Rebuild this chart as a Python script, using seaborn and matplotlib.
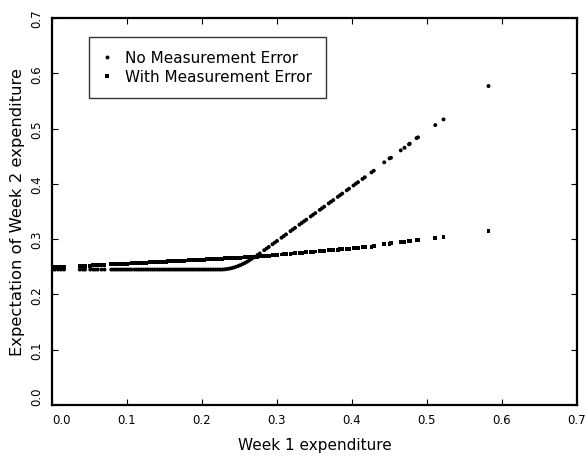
import matplotlib
matplotlib.use("Agg")
import matplotlib.pyplot as plt
import seaborn as sns
import pandas as pd

# Week 1 expenditure (x) values
week1 = [0.001, 0.004, 0.008, 0.012, 0.016,
         0.037, 0.041, 0.044,
         0.051, 0.055, 0.058, 0.061,
         0.066, 0.070,
         0.079, 0.082, 0.085, 0.088, 0.091, 0.094, 0.097, 0.100, 0.103, 0.106,
         0.110, 0.113, 0.116, 0.119, 0.122, 0.125, 0.128, 0.131, 0.134, 0.137,
         0.140, 0.143, 0.146, 0.149, 0.152, 0.155, 0.158, 0.161, 0.164, 0.167,
         0.170, 0.173, 0.176, 0.179, 0.182, 0.185, 0.188, 0.191, 0.194, 0.197,
         0.200, 0.203, 0.206, 0.209, 0.212, 0.215, 0.218, 0.221, 0.224, 0.227,
         0.230, 0.233, 0.236, 0.239, 0.242, 0.245, 0.248, 0.251, 0.254, 0.257,
         0.260, 0.263, 0.266, 0.269,
         0.274, 0.277, 0.283, 0.286, 0.289, 0.294, 0.297, 0.300, 0.306, 0.309,
         0.312, 0.318, 0.321, 0.324, 0.330, 0.333, 0.336, 0.339, 0.345, 0.348,
         0.351, 0.357, 0.360, 0.363, 0.369, 0.372, 0.375, 0.381, 0.384, 0.387,
         0.393, 0.396, 0.402, 0.405, 0.408, 0.414, 0.417, 0.426, 0.429, 0.443,
         0.450, 0.452, 0.465, 0.470, 0.476, 0.477, 0.486, 0.488, 0.511, 0.522,
         0.582]

# Expectation of week 2 expenditure, no measurement error
no_error = [0.2450, 0.2450, 0.2450, 0.2450, 0.2450,
            0.2450, 0.2450, 0.2450,
            0.2450, 0.2450, 0.2450, 0.2450,
            0.2450, 0.2450,
            0.2450, 0.2450, 0.2450, 0.2450, 0.2450, 0.2450, 0.2450, 0.2450, 0.2450, 0.2450,
            0.2450, 0.2450, 0.2450, 0.2450, 0.2450, 0.2450, 0.2450, 0.2450, 0.2450, 0.2450,
            0.2450, 0.2450, 0.2450, 0.2450, 0.2450, 0.2450, 0.2450, 0.2450, 0.2450, 0.2450,
            0.2450, 0.2450, 0.2450, 0.2450, 0.2450, 0.2450, 0.2450, 0.2450, 0.2450, 0.2450,
            0.2450, 0.2450, 0.2450, 0.2450, 0.2450, 0.2450, 0.2450, 0.2450, 0.2450, 0.2450,
            0.2454, 0.2459, 0.2466, 0.2474, 0.2485, 0.2498, 0.2513, 0.2529, 0.2548, 0.2568,
            0.2591, 0.2615, 0.2642, 0.2670,
            0.2712, 0.2741, 0.2800, 0.2829, 0.2859, 0.2908, 0.2938, 0.2967, 0.3026, 0.3056,
            0.3086, 0.3145, 0.3175, 0.3204, 0.3263, 0.3293, 0.3322, 0.3352, 0.3411, 0.3440,
            0.3470, 0.3529, 0.3558, 0.3588, 0.3647, 0.3676, 0.3706, 0.3765, 0.3794, 0.3824,
            0.3883, 0.3912, 0.3971, 0.4001, 0.4030, 0.4089, 0.4119, 0.4207, 0.4237, 0.4389,
            0.4461, 0.4472, 0.4606, 0.4653, 0.4715, 0.4726, 0.4828, 0.4841, 0.5063, 0.5166,
            0.5769]

# Expectation of week 2 expenditure, with measurement error
with_error = [0.2486, 0.2488, 0.2491, 0.2494, 0.2497,
              0.2512, 0.2515, 0.2517,
              0.2522, 0.2525, 0.2527, 0.2529,
              0.2533, 0.2535,
              0.2542, 0.2544, 0.2546, 0.2548, 0.2551, 0.2553, 0.2555, 0.2557, 0.2559, 0.2561,
              0.2564, 0.2566, 0.2569, 0.2571, 0.2573, 0.2575, 0.2577, 0.2579, 0.2581, 0.2584,
              0.2586, 0.2588, 0.2590, 0.2592, 0.2594, 0.2597, 0.2599, 0.2601, 0.2603, 0.2605,
              0.2607, 0.2610, 0.2612, 0.2614, 0.2616, 0.2618, 0.2620, 0.2623, 0.2625, 0.2627,
              0.2629, 0.2631, 0.2633, 0.2635, 0.2638, 0.2640, 0.2642, 0.2644, 0.2646, 0.2648,
              0.2651, 0.2653, 0.2655, 0.2657, 0.2659, 0.2661, 0.2664, 0.2666, 0.2668, 0.2670,
              0.2672, 0.2674, 0.2677, 0.2679,
              0.2684, 0.2688, 0.2695, 0.2699, 0.2702, 0.2708, 0.2712, 0.2715, 0.2722, 0.2726,
              0.2730, 0.2737, 0.2740, 0.2744, 0.2751, 0.2755, 0.2759, 0.2762, 0.2769, 0.2773,
              0.2777, 0.2784, 0.2787, 0.2791, 0.2798, 0.2802, 0.2805, 0.2812, 0.2816, 0.2820,
              0.2827, 0.2830, 0.2838, 0.2841, 0.2845, 0.2852, 0.2856, 0.2866, 0.2870, 0.2906,
              0.2920, 0.2924, 0.2945, 0.2955, 0.2965, 0.2967, 0.2985, 0.2988, 0.3020, 0.3033,
              0.3146]

series_labels = ["No Measurement Error", "With Measurement Error"]
tick_vals = [0.0, 0.1, 0.2, 0.3, 0.4, 0.5, 0.6, 0.7]
tick_labels = ["0.0", "0.1", "0.2", "0.3", "0.4", "0.5", "0.6", "0.7"]

df = pd.DataFrame({
    "x": week1 + week1,
    "y": no_error + with_error,
    "series": [series_labels[0]] * len(week1) + [series_labels[1]] * len(week1),
})

sns.set_theme(style="white")
plt.rcParams["font.family"] = ["DejaVu Sans"]
plt.rcParams["text.color"] = "black"
plt.rcParams["axes.labelcolor"] = "black"
plt.rcParams["xtick.color"] = "black"
plt.rcParams["ytick.color"] = "black"

fig = plt.figure(figsize=(5.87, 4.60), dpi=100)
ax = fig.add_axes([52 / 587, 54 / 460, 525 / 587, 387 / 460])

sns.scatterplot(data=df, x="x", y="y", style="series",
                markers={series_labels[0]: "o", series_labels[1]: "s"},
                color="black", s=8, linewidth=0, ax=ax, legend=True)

ax.set_xlim(0.0, 0.7)
ax.set_ylim(0.0, 0.7)
ax.set_xticks(tick_vals)
ax.set_yticks(tick_vals)
ax.set_xticklabels(tick_labels, fontsize=8.5)
ax.set_yticklabels(tick_labels, fontsize=8.5, rotation=90, va="center")
ax.tick_params(direction="in", length=4, width=0.8, top=True, right=True,
               bottom=True, left=True, colors="black", pad=6)
for sp in ax.spines.values():
    sp.set_visible(True)
    sp.set_linewidth(1.6)
    sp.set_color("black")

# shift end labels like the reference
xl = ax.get_xticklabels()
xl[0].set_horizontalalignment("left")
yl = ax.get_yticklabels()
yl[0].set_verticalalignment("bottom")

ax.set_xlabel("Week 1 expenditure", fontsize=11, labelpad=8, color="black")
ax.set_ylabel("Expectation of Week 2 expenditure", fontsize=11.8, labelpad=4, color="black")

leg = ax.legend(loc="upper left", bbox_to_anchor=(0.07, 0.952), frameon=True,
                fancybox=False, edgecolor="black", fontsize=11, markerscale=1.0,
                handlelength=0.6, handletextpad=0.9, borderpad=0.9,
                labelspacing=0.25, borderaxespad=0)
leg.get_frame().set_linewidth(1.0)
leg.get_frame().set_boxstyle("square", pad=0)
for t in leg.get_texts():
    t.set_color("black")

fig.savefig("out.png", dpi=100)
